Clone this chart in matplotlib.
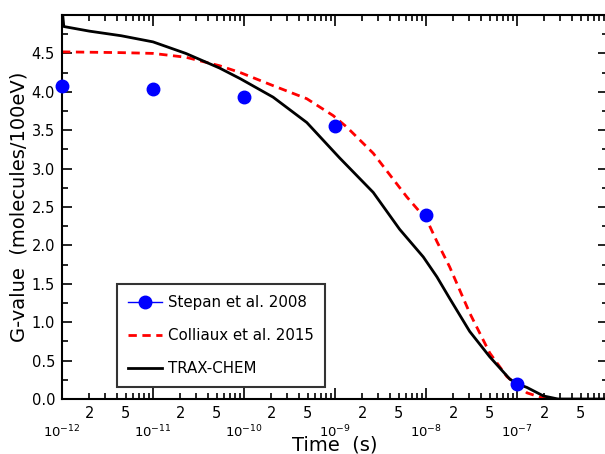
import numpy as np
import matplotlib.pyplot as plt
from matplotlib.lines import Line2D
from matplotlib.ticker import LogLocator, FixedLocator, MultipleLocator, FuncFormatter

# -----------------------------
# Data
# -----------------------------
stepan_t = [1e-12, 1e-11, 1e-10, 1e-9, 1e-8, 1e-7]
stepan_g = [4.08, 4.04, 3.93, 3.55, 2.40, 0.20]

colliaux_logt = [-12.0, -11.35, -11.0, -10.64, -10.27, -10.04, -9.68, -9.31,
                 -9.02, -8.87, -8.58, -8.21, -7.99, -7.88, -7.74, -7.52,
                 -7.30, -7.11, -6.89, -6.71, -6.6]
colliaux_g = [4.52, 4.51, 4.50, 4.45, 4.34, 4.25, 4.08, 3.91,
              3.69, 3.54, 3.20, 2.63, 2.33, 2.05, 1.72, 1.12,
              0.60, 0.29, 0.08, 0.01, 0.0]

trax_logt = [-12.0, -11.98, -11.7, -11.35, -11.0, -10.64, -10.27, -10.04,
             -9.68, -9.31, -8.95, -8.58, -8.29, -8.03, -7.88, -7.74,
             -7.52, -7.30, -7.08, -7.0, -6.89, -6.71, -6.55, -6.0]
trax_g = [5.10, 4.85, 4.79, 4.73, 4.65, 4.50, 4.31, 4.17,
          3.93, 3.60, 3.14, 2.69, 2.21, 1.85, 1.59, 1.31,
          0.88, 0.55, 0.26, 0.20, 0.15, 0.04, 0.0, 0.0]

colliaux_t = 10.0 ** np.array(colliaux_logt)
trax_t = 10.0 ** np.array(trax_logt)

# -----------------------------
# Plot
# -----------------------------
plt.rcParams['font.family'] = 'DejaVu Sans'
fig = plt.figure(figsize=(6.05, 4.54), dpi=100)
ax = fig.add_axes([62 / 605, 55 / 454, 546 / 605, 384 / 454])

ax.plot(stepan_t, stepan_g, 'o', color='blue', ms=9, clip_on=False, zorder=5)
ax.plot(colliaux_t, colliaux_g, '--', color='red', lw=2, dashes=(3, 2))
ax.plot(trax_t, trax_g, '-', color='black', lw=2)

ax.set_xscale('log')
ax.set_xlim(1e-12, 1e-6)
ax.set_ylim(0, 5)

# y ticks
ax.yaxis.set_major_locator(FixedLocator(np.arange(0, 4.6, 0.5)))
ax.yaxis.set_minor_locator(MultipleLocator(0.25))
ax.yaxis.set_major_formatter(FuncFormatter(lambda v, p: f"{v:.1f}"))

# x ticks: decade labels low, 2 and 5 labels high
ax.xaxis.set_major_locator(LogLocator(base=10, numticks=20))
ax.xaxis.set_minor_locator(LogLocator(base=10, subs=np.arange(2, 10), numticks=20))


def minor_fmt(v, p):
    m = v / 10 ** np.floor(np.log10(v) + 1e-9)
    if abs(m - 2) < 1e-6 or abs(m - 5) < 1e-6:
        return f"{int(round(m))}"
    return ""


def major_fmt(v, p):
    e = int(round(np.log10(v)))
    if e > -7:
        return ""
    return r"$10^{%d}$" % e


ax.xaxis.set_minor_formatter(FuncFormatter(minor_fmt))
ax.xaxis.set_major_formatter(FuncFormatter(major_fmt))

ax.tick_params(axis='both', which='both', direction='in', top=True, right=True,
               labelsize=10.5, width=1.2)
ax.tick_params(axis='x', which='major', length=8, pad=18, labelsize=9.5)
ax.tick_params(axis='x', which='minor', length=4, pad=5)
ax.tick_params(axis='y', which='major', length=7, pad=5)
ax.tick_params(axis='y', which='minor', length=4)

for s in ax.spines.values():
    s.set_linewidth(1.5)

ax.set_xlabel("Time  (s)", fontsize=14, labelpad=-4)
ax.set_ylabel("G-value  (molecules/100eV)", fontsize=14, labelpad=2)

handles = [
    Line2D([], [], color='blue', lw=1, marker='o', ms=9),
    Line2D([], [], color='red', lw=2, ls='--', dashes=(3, 2)),
    Line2D([], [], color='black', lw=2),
]
labels = ["Stepan et al. 2008", "Colliaux et al. 2015", "TRAX-CHEM"]
leg = ax.legend(handles, labels, loc='lower left', bbox_to_anchor=(0.10, 0.031),
                fontsize=10.8, frameon=True, fancybox=False, edgecolor='black',
                handlelength=2.3, handletextpad=0.4, borderpad=0.75,
                labelspacing=1.2, borderaxespad=0)
leg.get_frame().set_linewidth(1.5)

plt.savefig("out.png", dpi=100)
plt.close()
